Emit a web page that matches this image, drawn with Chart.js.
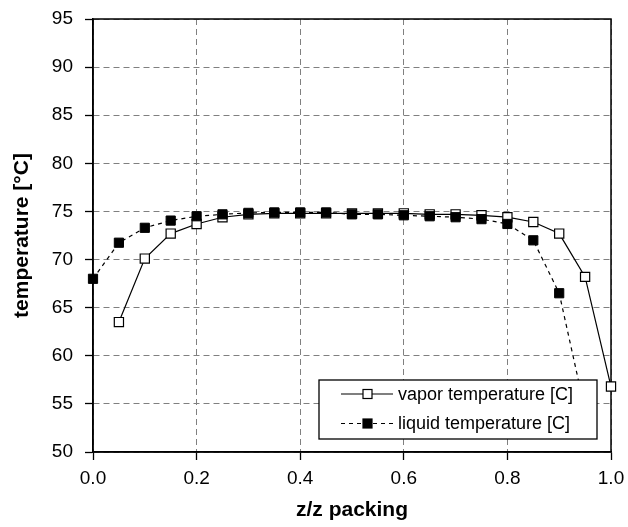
<!DOCTYPE html>
<html>
<head>
<meta charset="utf-8">
<script src="https://cdn.jsdelivr.net/npm/chart.js@4.4.1/dist/chart.umd.min.js"></script>
<style>
  html, body { margin: 0; padding: 0; background: #fff; }
  #wrap { width: 628px; height: 527px; }
</style>
</head>
<body>
<div id="wrap"><canvas id="chart"></canvas></div>
<script>
// ─── Data ─────────────────────────────────────────────────────────────────────

const zPos = [0.00, 0.05, 0.10, 0.15, 0.20, 0.25, 0.30, 0.35, 0.40, 0.45, 0.50,
              0.55, 0.60, 0.65, 0.70, 0.75, 0.80, 0.85, 0.90, 0.95, 1.00];

const vaporTemp = [null, 63.5, 70.1, 72.7, 73.7, 74.4, 74.7, 74.8, 74.8, 74.8, 74.8,
                   74.8, 74.8, 74.7, 74.7, 74.6, 74.4, 73.9, 72.7, 68.2, 56.8];

const liquidTemp = [68.0, 71.75, 73.3, 74.05, 74.5, 74.7, 74.85, 74.9, 74.9, 74.9, 74.7,
                    74.7, 74.6, 74.5, 74.4, 74.2, 73.7, 72.0, 66.5, 54.3, null];

const seriesNames = ['vapor temperature [C]', 'liquid temperature [C]'];
const xTitle = 'z/z packing';
const yTitle = 'temperature [°C]';

const toPoints = (vals) => zPos.map((x, i) => ({ x, y: vals[i] }));

// ─── Plugins ──────────────────────────────────────────────────────────────────

// plot area frame (top / right sides; left & bottom are the axis borders)
const frame = {
  id: 'frame',
  beforeDatasetsDraw(chart) {
    const { ctx, chartArea: a } = chart;
    ctx.save();
    ctx.strokeStyle = '#000';
    ctx.lineWidth = 1.5;
    ctx.strokeRect(a.left, a.top, a.right - a.left, a.bottom - a.top);
    ctx.restore();
  },
};

// legend box inside the plot, lower right
const boxLegend = {
  id: 'boxLegend',
  afterDraw(chart) {
    const { ctx } = chart;
    const x0 = 319, y0 = 380, w = 278, h = 59;
    ctx.save();
    ctx.fillStyle = '#fff';
    ctx.fillRect(x0, y0, w, h);
    ctx.strokeStyle = '#000';
    ctx.lineWidth = 1.3;
    ctx.strokeRect(x0, y0, w, h);

    const rows = [
      { y: 394, dash: [], fill: '#fff' },
      { y: 423.5, dash: [4, 4], fill: '#000' },
    ];
    rows.forEach((r, i) => {
      ctx.beginPath();
      ctx.setLineDash(r.dash);
      ctx.lineWidth = 1.2;
      ctx.moveTo(341, r.y);
      ctx.lineTo(393, r.y);
      ctx.stroke();
      ctx.setLineDash([]);
      ctx.fillStyle = r.fill;
      ctx.fillRect(363, r.y - 4.5, 9, 9);
      ctx.strokeRect(363, r.y - 4.5, 9, 9);
      ctx.fillStyle = '#000';
      ctx.font = '18px "Liberation Sans", Arial, sans-serif';
      ctx.textBaseline = 'middle';
      ctx.fillText(seriesNames[i], 398, r.y + 1);
    });
    ctx.restore();
  },
};

// ─── Chart ────────────────────────────────────────────────────────────────────

const tickFont = { family: '"Liberation Sans", Arial, sans-serif', size: 19 };
const titleFont = { family: '"Liberation Sans", Arial, sans-serif', size: 21, weight: 'bold' };

new Chart(document.getElementById('chart'), {
  type: 'line',
  data: {
    datasets: [
      {
        label: seriesNames[1],
        data: toPoints(liquidTemp),
        borderColor: '#000',
        borderWidth: 1.2,
        borderDash: [4, 4],
        pointStyle: 'rect',
        pointRadius: 6.5,
        pointBackgroundColor: '#000',
        pointBorderColor: '#000',
        pointBorderWidth: 1,
        tension: 0,
        spanGaps: false,
        clip: false,
      },
      {
        label: seriesNames[0],
        data: toPoints(vaporTemp),
        borderColor: '#000',
        borderWidth: 1.2,
        pointStyle: 'rect',
        pointRadius: 6.5,
        pointBackgroundColor: '#fff',
        pointBorderColor: '#000',
        pointBorderWidth: 1.2,
        tension: 0,
        spanGaps: false,
        clip: false,
      },
    ],
  },
  options: {
    responsive: true,
    maintainAspectRatio: false,
    animation: false,
    layout: { padding: { left: 0, right: 17, top: 19, bottom: 0 } },
    plugins: {
      legend: { display: false },
      tooltip: { enabled: false },
    },
    scales: {
      x: {
        type: 'linear',
        min: 0,
        max: 1,
        afterFit: (s) => { s.height = 75; s.paddingLeft = 0; s.paddingRight = 0; },
        ticks: {
          stepSize: 0.2,
          color: '#000',
          font: tickFont,
          padding: 7,
          maxRotation: 0,
          callback: (v) => v.toFixed(1),
        },
        grid: { color: '#808080', lineWidth: 1, tickColor: '#000', tickLength: 8, tickWidth: 1.3 },
        border: { color: '#000', width: 1.5, dash: [6, 4] },
        title: { display: true, text: xTitle, color: '#000', font: titleFont, padding: { top: 0, bottom: 4 } },
      },
      y: {
        min: 50,
        max: 95,
        afterFit: (s) => { s.width = 93; s.paddingTop = 0; s.paddingBottom = 0; },
        ticks: {
          stepSize: 5,
          color: '#000',
          font: tickFont,
          padding: 12,
        },
        grid: { color: '#808080', lineWidth: 1, tickColor: '#000', tickLength: 8, tickWidth: 1.3 },
        border: { color: '#000', width: 1.5, dash: [6, 4] },
        title: { display: true, text: yTitle, color: '#000', font: titleFont, padding: { top: 10, bottom: 0 } },
      },
    },
  },
  plugins: [frame, boxLegend],
});
</script>
</body>
</html>
